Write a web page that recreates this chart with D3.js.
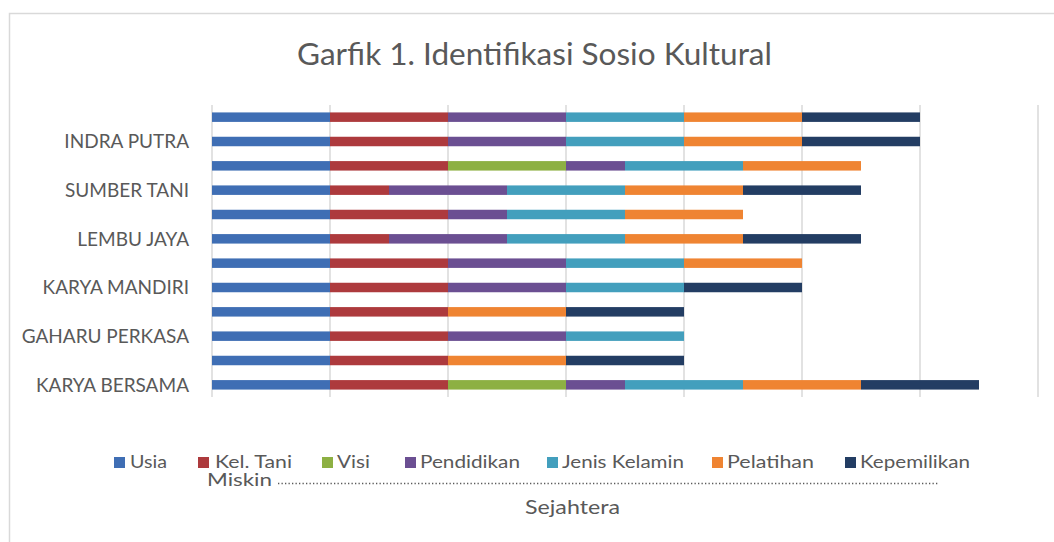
<!DOCTYPE html>
<html><head><meta charset="utf-8">
<script src="https://cdn.jsdelivr.net/npm/d3@7"></script>
<style>
html,body{margin:0;padding:0;background:#fff;}
svg{display:block;}
text{font-family:Lato,"Open Sans",sans-serif;fill:#595959;}
</style></head>
<body>
<svg id="chart" width="1054" height="542"></svg>
<script>
// ---- data (bottom category first, as in the source chart) ----
const categories = ["KARYA BERSAMA","","GAHARU PERKASA","","KARYA MANDIRI","","LEMBU JAYA","","SUMBER TANI","","INDRA PUTRA",""];
const seriesNames = ["Usia","Kel. Tani","Visi","Pendidikan","Jenis Kelamin","Pelatihan","Kepemilikan"];
const usia        = [1,1,1,1,1,1,1,1,1,1,1,1];
const kelTani     = [1,1,1,1,1,1,0.5,1,0.5,1,1,1];
const visi        = [1,0,0,0,0,0,0,0,0,1,0,0];
const pendidikan  = [0.5,0,1,0,1,1,1,0.5,1,0.5,1,1];
const jenisKelamin= [1,0,1,0,1,1,1,1,1,1,1,1];
const pelatihan   = [1,1,0,1,0,1,1,1,1,1,1,1];
const kepemilikan = [1,1,0,1,1,0,1,0,1,0,1,1];
const xTicks = [0,1,2,3,4,5,6,7];
const title = "Garfik 1. Identifikasi Sosio Kultural";
const axisTitleLeft = "Miskin";
const axisTitleBottom = "Sejahtera";

const seriesValues = [usia,kelTani,visi,pendidikan,jenisKelamin,pelatihan,kepemilikan];
const colors = ["#3f6eb4","#ad3a3d","#8db043","#6b4f92","#439fbd","#ef8432","#233d63"];

const svg = d3.select("#chart");

// outer frame
svg.append("rect").attr("x",9.5).attr("y",13.5).attr("width",1100).attr("height",600)
  .attr("fill","none").attr("stroke","#d9d9d9").attr("stroke-width",1.5);

const x = d3.scaleLinear().domain([0,7]).range([212,1038]);
const idx = d3.range(categories.length);
const y = d3.scaleBand().domain(idx.slice().reverse()).range([105,397]).paddingInner(0.61).paddingOuter(0.305);

// gridlines
svg.append("g").selectAll("line").data(xTicks).join("line")
  .attr("x1",d=>x(d)).attr("x2",d=>x(d)).attr("y1",105).attr("y2",397)
  .attr("stroke","#d9d9d9").attr("stroke-width",1.5);

// stack
const table = idx.map(i=>{const o={i}; seriesNames.forEach((s,k)=>o[s]=seriesValues[k][i]); return o;});
const stacked = d3.stack().keys(seriesNames)(table);

svg.append("g").selectAll("g").data(stacked).join("g")
  .attr("fill",(d,k)=>colors[k])
  .selectAll("rect").data(d=>d.filter(p=>p[1]-p[0]>0)).join("rect")
  .attr("x",p=>x(p[0])).attr("width",p=>x(p[1])-x(p[0]))
  .attr("y",p=>y(p.data.i)).attr("height",y.bandwidth());

// category axis labels
const yAxis = d3.axisLeft(y).tickSize(0).tickPadding(0).tickFormat(i=>categories[i]);
const ya = svg.append("g").attr("transform","translate(189,0)").call(yAxis);
ya.select(".domain").remove();
ya.selectAll("text").style("font-family","Lato").style("font-size","19px").attr("fill","#595959").attr("dy","0.36em");

// title
svg.append("text").attr("x",534.5).attr("y",65).attr("text-anchor","middle")
  .style("font-size","31px").attr("textLength",475).attr("lengthAdjust","spacingAndGlyphs").text(title);

// legend
const legX = [114,198,322,405,547,712,845];
const legW = [37,77,33,100,122,87,110];
const leg = svg.append("g").selectAll("g").data(seriesNames).join("g")
  .attr("transform",(d,k)=>`translate(${legX[k]},0)`);
leg.append("rect").attr("x",0).attr("y",457).attr("width",11).attr("height",11).attr("fill",(d,k)=>colors[k]);
leg.append("text").attr("x",(d,k)=>k===0?16:(k===1?17:15)).attr("y",468).style("font-size","17px")
  .attr("textLength",(d,k)=>legW[k]).attr("lengthAdjust","spacingAndGlyphs").text(d=>d);

// axis title rows
svg.append("text").attr("x",207).attr("y",486).style("font-size","18px")
  .attr("textLength",65).attr("lengthAdjust","spacingAndGlyphs").text(axisTitleLeft);
svg.append("line").attr("x1",278).attr("x2",939).attr("y1",483.5).attr("y2",483.5)
  .attr("stroke","#595959").attr("stroke-width",1.3).attr("stroke-dasharray","1.3,2.2");
svg.append("text").attr("x",572.5).attr("y",514).attr("text-anchor","middle").style("font-size","19px")
  .attr("textLength",95).attr("lengthAdjust","spacingAndGlyphs").text(axisTitleBottom);
</script>
</body></html>
